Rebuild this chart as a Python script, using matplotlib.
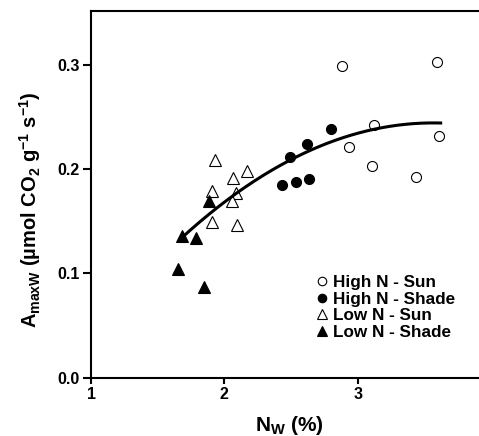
import numpy as np
import matplotlib
matplotlib.use("Agg")
import matplotlib.pyplot as plt

plt.rcParams['font.family'] = ['Liberation Sans', 'DejaVu Sans']
plt.rcParams['font.weight'] = 'bold'
plt.rcParams['mathtext.fontset'] = 'custom'
plt.rcParams['mathtext.rm'] = 'Liberation Sans:bold'
plt.rcParams['mathtext.it'] = 'Liberation Sans:bold'
plt.rcParams['mathtext.bf'] = 'Liberation Sans:bold'

# leaf N (%) and Amax (umol CO2 g-1 s-1) per group
high_sun_x = [2.885, 3.598, 3.125, 2.935, 3.613, 3.108, 3.44]
high_sun_y = [0.299, 0.303, 0.242, 0.221, 0.232, 0.203, 0.192]
high_shade_x = [2.798, 2.618, 2.493, 2.433, 2.535, 2.633]
high_shade_y = [0.238, 0.224, 0.212, 0.185, 0.188, 0.190]
low_sun_x = [1.930, 2.168, 2.063, 1.908, 2.090, 2.058, 1.908, 2.093]
low_sun_y = [0.209, 0.198, 0.191, 0.179, 0.177, 0.169, 0.149, 0.146]
low_shade_x = [1.885, 1.785, 1.680, 1.653, 1.845]
low_shade_y = [0.169, 0.134, 0.136, 0.104, 0.087]

# quadratic fit y = c0 + c1*x + c2*x^2 over the data range
fit_coef = [-0.1497, 0.2209, -0.03097]
fit_range = [1.68, 3.623]

fig = plt.figure(figsize=(4.79, 4.36), dpi=100)
ax = fig.add_axes([91 / 479, (436 - 377.7) / 436, 388 / 479, 366.7 / 436])

ms = 7.2
ax.plot(high_sun_x, high_sun_y, 'o', ms=ms, mfc='white', mec='black', mew=0.8,
        label='High N - Sun', zorder=3)
ax.plot(high_shade_x, high_shade_y, 'o', ms=ms, mfc='black', mec='black', mew=0.8,
        label='High N - Shade', zorder=3)
ax.plot(low_sun_x, low_sun_y, '^', ms=8, mfc='white', mec='black', mew=0.8,
        label='Low N - Sun', zorder=3)
ax.plot(low_shade_x, low_shade_y, '^', ms=8, mfc='black', mec='black', mew=0.8,
        label='Low N - Shade', zorder=3)

xf = np.linspace(fit_range[0], fit_range[1], 200)
yf = fit_coef[0] + fit_coef[1] * xf + fit_coef[2] * xf ** 2
ax.plot(xf, yf, color='black', lw=2.2, zorder=4)

ax.set_xlim(1, 1 + 388 / 133.3)
ax.set_ylim(0, 366.7 / 1043.3)
ax.set_xticks([1, 2, 3])
ax.set_yticks([0.0, 0.1, 0.2, 0.3])
ax.set_yticklabels(['0.0', '0.1', '0.2', '0.3'])
ax.spines['right'].set_visible(False)
for s in ['left', 'bottom', 'top']:
    ax.spines[s].set_linewidth(1.5)
ax.tick_params(axis='both', direction='out', width=1.5, labelsize=11.5)
ax.tick_params(axis='y', length=6, pad=2)
ax.tick_params(axis='x', length=4, pad=3)

fig.text(30 / 479, 1 - 210 / 436,
         r'$A_{maxW}$ (µmol CO$_2$ g$^{-1}$ s$^{-1}$)',
         rotation=90, ha='center', va='center', fontsize=14.5, fontweight='bold')
fig.text(289 / 479, 1 - 425 / 436, r'N$_W$ (%)',
         ha='center', va='center', fontsize=15, fontweight='bold')

leg = ax.legend(loc='upper left', bbox_to_anchor=((317 - 91) / 388, (377.7 - 275) / 366.7),
                frameon=False, fontsize=12.3, labelspacing=0.1, handlelength=0.6,
                handletextpad=0.35, borderpad=0, borderaxespad=0, markerscale=0.85)

fig.savefig('out.png', dpi=100)
